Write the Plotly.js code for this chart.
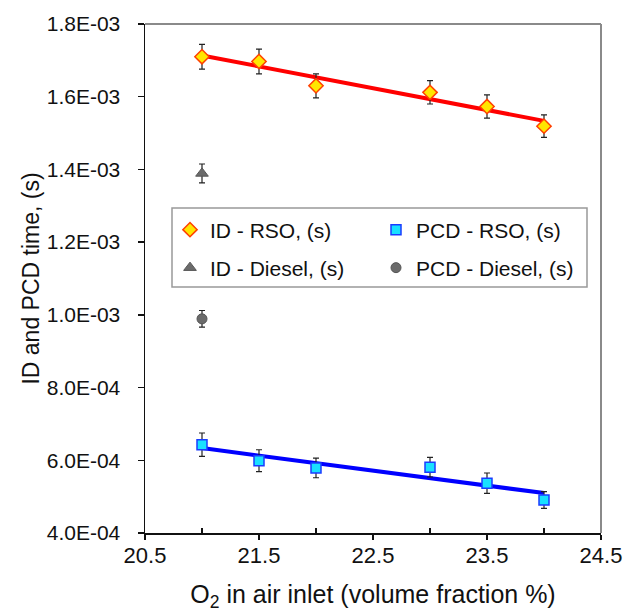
<!DOCTYPE html>
<html>
<head>
<meta charset="utf-8">
<script src="https://cdn.plot.ly/plotly-3.0.1.min.js"></script>
<style>html,body{margin:0;padding:0;background:#fff;}#chart{width:625px;height:614px;}</style>
</head>
<body>
<div id="chart"></div>
<script>
// ---- data ----
const o2 = [21, 21.5, 22, 23, 23.5, 24];
const idRSO = [1.710e-3, 1.697e-3, 1.630e-3, 1.612e-3, 1.573e-3, 1.519e-3];
const idRSOErr = [3.4e-5, 3.4e-5, 3.3e-5, 3.2e-5, 3.2e-5, 3.1e-5];
const pcdRSO = [6.43e-4, 5.99e-4, 5.79e-4, 5.81e-4, 5.37e-4, 4.91e-4];
const pcdRSOErr = [3.2e-5, 3.0e-5, 2.7e-5, 2.7e-5, 2.8e-5, 2.3e-5];
const dieselO2 = [21];
const idDiesel = [1.389e-3];
const idDieselErr = [2.6e-5];
const pcdDiesel = [9.89e-4];
const pcdDieselErr = [2.3e-5];
const yTickVals = [4e-4, 6e-4, 8e-4, 1.0e-3, 1.2e-3, 1.4e-3, 1.6e-3, 1.8e-3];
const yTickText = ['4.0E-04', '6.0E-04', '8.0E-04', '1.0E-03', '1.2E-03', '1.4E-03', '1.6E-03', '1.8E-03'];
const xTickVals = [20.5, 21.5, 22.5, 23.5, 24.5];
const xTickText = ['20.5', '21.5', '22.5', '23.5', '24.5'];
const xMinorTicks = [21, 22, 23, 24];
const seriesNames = ['ID - RSO, (s)', 'PCD - RSO, (s)', 'ID - Diesel, (s)', 'PCD - Diesel, (s)'];

// linear trendline (least squares) evaluated at the end points of the data
function trend(xs, ys) {
  const n = xs.length;
  const mx = xs.reduce((a, b) => a + b, 0) / n;
  const my = ys.reduce((a, b) => a + b, 0) / n;
  let sxy = 0, sxx = 0;
  for (let i = 0; i < n; i++) { sxy += (xs[i] - mx) * (ys[i] - my); sxx += (xs[i] - mx) ** 2; }
  const b = sxy / sxx, a = my - b * mx;
  const ex = [xs[0], xs[n - 1]];
  return { x: ex, y: ex.map(v => a + b * v) };
}
const tId = trend(o2, idRSO);
const tPcd = trend(o2, pcdRSO);

const FONT = 'Liberation Sans, Arial, sans-serif';
const errStyle = (arr) => ({ type: 'data', array: arr, visible: true, color: '#222', thickness: 1.2, width: 3 });

const traces = [
  { x: tId.x, y: tId.y, mode: 'lines', line: { color: '#ff0000', width: 4 }, showlegend: false, hoverinfo: 'skip' },
  { x: tPcd.x, y: tPcd.y, mode: 'lines', line: { color: '#0000ff', width: 4 }, showlegend: false, hoverinfo: 'skip' },
  { x: o2, y: idRSO, name: seriesNames[0], mode: 'markers', error_y: errStyle(idRSOErr),
    marker: { symbol: 'diamond', size: 11, color: '#ffe600', line: { color: '#ff4000', width: 1.5 } }, legend: 'legend' },
  { x: o2, y: pcdRSO, name: seriesNames[1], mode: 'markers', error_y: errStyle(pcdRSOErr),
    marker: { symbol: 'square', size: 10, color: '#19e0ff', line: { color: '#1a3cff', width: 1.5 } }, legend: 'legend2' },
  { x: dieselO2, y: idDiesel, name: seriesNames[2], mode: 'markers', error_y: errStyle(idDieselErr),
    marker: { symbol: 'triangle-up', size: 11, color: '#6b6b6b', line: { color: '#555', width: 1 } }, legend: 'legend3' },
  { x: dieselO2, y: pcdDiesel, name: seriesNames[3], mode: 'markers', error_y: errStyle(pcdDieselErr),
    marker: { symbol: 'circle', size: 10, color: '#6b6b6b', line: { color: '#555', width: 1 } }, legend: 'legend4' }
];

const L = 145, R = 24, T = 24, B = 81;
const W = 625 - L - R, H = 614 - T - B;
const px = (v) => (v - L) / W;           // pixel -> paper x
const py = (v) => (614 - B - v) / H;     // pixel -> paper y
const legBase = { bgcolor: 'rgba(0,0,0,0)', borderwidth: 0, font: { family: FONT, size: 21, color: '#111' },
  xanchor: 'left', yanchor: 'middle', itemwidth: 30 };

const layout = {
  width: 625, height: 614,
  margin: { l: L, r: R, t: T, b: B },
  paper_bgcolor: '#fff', plot_bgcolor: '#fff',
  font: { family: FONT, color: '#111' },
  xaxis: {
    range: [20.5, 24.5], tickvals: xTickVals, ticktext: xTickText,
    showline: true, linecolor: '#111', linewidth: 1.5, mirror: false,
    ticks: 'outside', ticklen: 5, tickwidth: 1.5, tickcolor: '#111',
    minor: { ticks: 'inside', ticklen: 5, tickwidth: 1.5, tickcolor: '#111', tickvals: xMinorTicks },
    showgrid: false, zeroline: false,
    tickfont: { family: FONT, size: 22, color: '#111' }, ticklabelstandoff: -3,
    title: { text: 'O<sub>2</sub> in air inlet (volume fraction %)', font: { family: FONT, size: 25, color: '#111' }, standoff: 18 }
  },
  xaxis2: {
    overlaying: 'x', matches: 'x', range: [20.5, 24.5], tickvals: xTickVals, ticktext: xTickText, showticklabels: false,
    ticks: 'inside', ticklen: 5, tickwidth: 1.5, tickcolor: '#111', showline: false, showgrid: false, zeroline: false
  },
  yaxis: {
    range: [4e-4, 1.8e-3], tickvals: yTickVals, ticktext: yTickText,
    showline: true, linecolor: '#111', linewidth: 1.5,
    ticks: 'outside', ticklen: 6, tickwidth: 1.5, tickcolor: '#111',
    showgrid: false, zeroline: false,
    tickfont: { family: FONT, size: 21, color: '#111' }, ticklabelstandoff: 13,
    title: { text: 'ID and PCD time, (s)', font: { family: FONT, size: 23, color: '#111' }, standoff: 0 }
  },
  legend: Object.assign({}, legBase, { x: px(170), y: py(230) }),
  legend2: Object.assign({}, legBase, { x: px(376), y: py(230) }),
  legend3: Object.assign({}, legBase, { x: px(170), y: py(268) }),
  legend4: Object.assign({}, legBase, { x: px(376), y: py(268) }),
  shapes: [
    { type: 'rect', xref: 'paper', yref: 'paper', x0: px(172), x1: px(587), y0: py(287), y1: py(208),
      line: { color: '#999', width: 1.5 }, fillcolor: '#fff', layer: 'below' },
    { type: 'line', xref: 'paper', yref: 'paper', x0: 0, x1: 1, y0: 1, y1: 1, line: { color: '#8a8a8a', width: 2 } },
    { type: 'line', xref: 'paper', yref: 'paper', x0: 1, x1: 1, y0: 0, y1: 1, line: { color: '#8a8a8a', width: 2 } }
  ],
  showlegend: true
};

Plotly.newPlot('chart', traces, layout, { displayModeBar: false, staticPlot: true });
</script>
</body>
</html>
